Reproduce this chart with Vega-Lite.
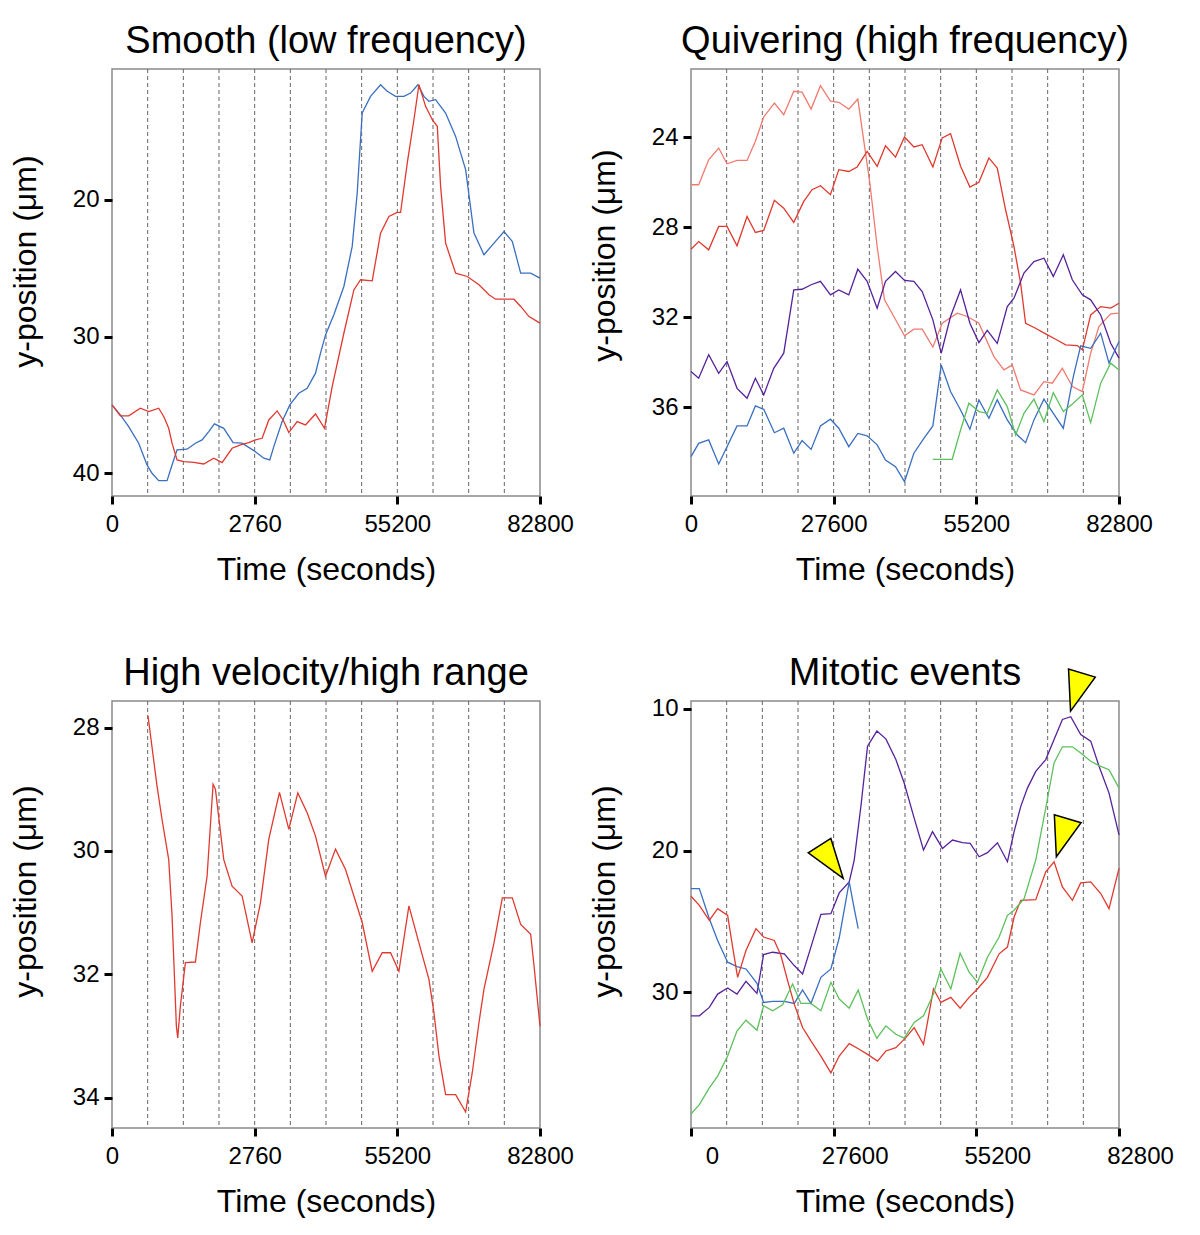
{
"$schema": "https://vega.github.io/schema/vega-lite/v6.json",
"background": "white",
"padding": {"left": 8, "top": 21, "right": 0, "bottom": 0},
"columns": 2,
"spacing": {"row": 205, "column": 151},
"bounds": "flush",
"datasets": {
"grid": [{"t":6900},{"t":13800},{"t":20700},{"t":27600},{"t":34500},{"t":41400},{"t":48300},{"t":55200},{"t":62100},{"t":69000},{"t":75900}],
"p1": [
{"s":"blue","t":0,"y":35.0},{"s":"blue","t":1614,"y":35.73},{"s":"blue","t":3227,"y":36.59},{"s":"blue","t":5163,"y":37.8},{"s":"blue","t":6777,"y":39.39},{"s":"blue","t":7745,"y":40.0},{"s":"blue","t":9036,"y":40.54},{"s":"blue","t":10649,"y":40.54},{"s":"blue","t":11617,"y":39.39},{"s":"blue","t":12585,"y":38.29},{"s":"blue","t":14522,"y":38.24},{"s":"blue","t":16135,"y":37.8},{"s":"blue","t":17426,"y":37.56},{"s":"blue","t":18717,"y":36.95},{"s":"blue","t":19814,"y":36.39},{"s":"blue","t":21621,"y":36.71},{"s":"blue","t":23428,"y":37.76},{"s":"blue","t":25171,"y":37.8},{"s":"blue","t":27430,"y":38.34},{"s":"blue","t":29366,"y":38.9},{"s":"blue","t":30527,"y":39.02},{"s":"blue","t":31302,"y":38.05},{"s":"blue","t":32915,"y":36.22},{"s":"blue","t":34400,"y":35.0},{"s":"blue","t":36142,"y":34.15},{"s":"blue","t":37756,"y":33.78},{"s":"blue","t":39369,"y":32.68},{"s":"blue","t":40338,"y":31.22},{"s":"blue","t":41306,"y":29.88},{"s":"blue","t":42919,"y":28.41},{"s":"blue","t":44855,"y":26.34},{"s":"blue","t":46469,"y":23.41},{"s":"blue","t":47437,"y":19.51},{"s":"blue","t":48405,"y":13.66},{"s":"blue","t":50019,"y":12.44},{"s":"blue","t":51955,"y":11.59},{"s":"blue","t":53246,"y":12.07},{"s":"blue","t":54859,"y":12.44},{"s":"blue","t":56473,"y":12.44},{"s":"blue","t":57763,"y":12.2},{"s":"blue","t":59183,"y":11.59},{"s":"blue","t":60345,"y":12.44},{"s":"blue","t":61313,"y":12.8},{"s":"blue","t":62604,"y":12.68},{"s":"blue","t":64540,"y":13.66},{"s":"blue","t":66476,"y":15.37},{"s":"blue","t":68412,"y":17.8},{"s":"blue","t":70026,"y":22.44},{"s":"blue","t":71962,"y":24.02},{"s":"blue","t":73898,"y":23.17},{"s":"blue","t":75835,"y":22.32},{"s":"blue","t":77448,"y":23.05},{"s":"blue","t":79062,"y":25.37},{"s":"blue","t":80998,"y":25.37},{"s":"blue","t":82800,"y":25.73},
{"s":"red","t":0,"y":35.0},{"s":"red","t":1614,"y":35.8},{"s":"red","t":3227,"y":35.8},{"s":"red","t":5486,"y":35.24},{"s":"red","t":7099,"y":35.49},{"s":"red","t":9036,"y":35.24},{"s":"red","t":10004,"y":35.85},{"s":"red","t":10972,"y":36.71},{"s":"red","t":11617,"y":37.8},{"s":"red","t":12585,"y":39.02},{"s":"red","t":13876,"y":39.15},{"s":"red","t":15812,"y":39.2},{"s":"red","t":17749,"y":39.32},{"s":"red","t":19685,"y":38.9},{"s":"red","t":21298,"y":39.22},{"s":"red","t":23234,"y":38.17},{"s":"red","t":24848,"y":37.93},{"s":"red","t":26461,"y":37.76},{"s":"red","t":27752,"y":37.56},{"s":"red","t":29043,"y":37.44},{"s":"red","t":30334,"y":36.1},{"s":"red","t":31947,"y":35.44},{"s":"red","t":33109,"y":36.1},{"s":"red","t":34206,"y":37.02},{"s":"red","t":35820,"y":36.22},{"s":"red","t":37433,"y":36.46},{"s":"red","t":39369,"y":35.66},{"s":"red","t":41112,"y":36.71},{"s":"red","t":42596,"y":33.66},{"s":"red","t":44855,"y":29.76},{"s":"red","t":46792,"y":26.59},{"s":"red","t":48082,"y":25.85},{"s":"red","t":50341,"y":25.93},{"s":"red","t":51955,"y":22.44},{"s":"red","t":53568,"y":21.22},{"s":"red","t":55182,"y":20.93},{"s":"red","t":55827,"y":20.93},{"s":"red","t":57118,"y":17.32},{"s":"red","t":58409,"y":14.15},{"s":"red","t":59377,"y":11.59},{"s":"red","t":60668,"y":13.17},{"s":"red","t":61958,"y":14.15},{"s":"red","t":62927,"y":14.63},{"s":"red","t":63572,"y":19.02},{"s":"red","t":64540,"y":23.17},{"s":"red","t":66476,"y":25.37},{"s":"red","t":68735,"y":25.61},{"s":"red","t":70994,"y":26.22},{"s":"red","t":72930,"y":26.95},{"s":"red","t":74221,"y":27.27},{"s":"red","t":77771,"y":27.27},{"s":"red","t":79062,"y":27.8},{"s":"red","t":80675,"y":28.54},{"s":"red","t":82800,"y":29.02}
],
"p2": [
{"s":"lightred","t":0,"y":26.12},{"s":"lightred","t":1484,"y":26.12},{"s":"lightred","t":3421,"y":25.01},{"s":"lightred","t":5357,"y":24.49},{"s":"lightred","t":6970,"y":25.19},{"s":"lightred","t":8907,"y":25.04},{"s":"lightred","t":10843,"y":25.04},{"s":"lightred","t":12456,"y":24.19},{"s":"lightred","t":14070,"y":23.11},{"s":"lightred","t":16135,"y":22.49},{"s":"lightred","t":17942,"y":23.01},{"s":"lightred","t":19878,"y":21.97},{"s":"lightred","t":21492,"y":22.01},{"s":"lightred","t":23234,"y":22.76},{"s":"lightred","t":25042,"y":21.72},{"s":"lightred","t":26978,"y":22.41},{"s":"lightred","t":28591,"y":22.46},{"s":"lightred","t":30527,"y":22.76},{"s":"lightred","t":32270,"y":22.31},{"s":"lightred","t":33303,"y":23.97},{"s":"lightred","t":34594,"y":26.04},{"s":"lightred","t":36013,"y":28.86},{"s":"lightred","t":37433,"y":31.23},{"s":"lightred","t":39240,"y":31.97},{"s":"lightred","t":41306,"y":32.83},{"s":"lightred","t":43113,"y":32.53},{"s":"lightred","t":44726,"y":32.53},{"s":"lightred","t":46792,"y":33.33},{"s":"lightred","t":48599,"y":32.27},{"s":"lightred","t":51503,"y":31.82},{"s":"lightred","t":53439,"y":31.97},{"s":"lightred","t":55698,"y":32.27},{"s":"lightred","t":58602,"y":33.75},{"s":"lightred","t":60539,"y":34.34},{"s":"lightred","t":62152,"y":34.12},{"s":"lightred","t":63766,"y":35.23},{"s":"lightred","t":66347,"y":35.45},{"s":"lightred","t":68283,"y":34.86},{"s":"lightred","t":69897,"y":34.93},{"s":"lightred","t":71833,"y":34.27},{"s":"lightred","t":73769,"y":35.08},{"s":"lightred","t":75705,"y":35.3},{"s":"lightred","t":77319,"y":33.6},{"s":"lightred","t":78932,"y":32.41},{"s":"lightred","t":81191,"y":31.85},{"s":"lightred","t":82800,"y":31.82},
{"s":"red","t":0,"y":28.98},{"s":"red","t":1484,"y":28.64},{"s":"red","t":3421,"y":29.01},{"s":"red","t":5357,"y":27.97},{"s":"red","t":6970,"y":27.97},{"s":"red","t":8907,"y":28.83},{"s":"red","t":10843,"y":27.53},{"s":"red","t":12456,"y":28.24},{"s":"red","t":14070,"y":28.15},{"s":"red","t":16135,"y":26.81},{"s":"red","t":17942,"y":27.16},{"s":"red","t":19878,"y":27.79},{"s":"red","t":21814,"y":26.86},{"s":"red","t":23428,"y":26.34},{"s":"red","t":25042,"y":26.16},{"s":"red","t":26978,"y":26.56},{"s":"red","t":28591,"y":25.45},{"s":"red","t":30527,"y":25.53},{"s":"red","t":32141,"y":25.33},{"s":"red","t":34077,"y":24.64},{"s":"red","t":36013,"y":25.3},{"s":"red","t":37627,"y":24.39},{"s":"red","t":39563,"y":24.89},{"s":"red","t":41306,"y":24.0},{"s":"red","t":43113,"y":24.44},{"s":"red","t":44726,"y":24.34},{"s":"red","t":46792,"y":25.33},{"s":"red","t":48599,"y":24.04},{"s":"red","t":50213,"y":23.85},{"s":"red","t":52149,"y":25.3},{"s":"red","t":53956,"y":26.22},{"s":"red","t":55698,"y":26.01},{"s":"red","t":57634,"y":24.93},{"s":"red","t":59248,"y":25.38},{"s":"red","t":60861,"y":27.23},{"s":"red","t":62475,"y":28.86},{"s":"red","t":63766,"y":30.49},{"s":"red","t":64734,"y":32.27},{"s":"red","t":66670,"y":32.49},{"s":"red","t":68606,"y":32.74},{"s":"red","t":70542,"y":32.98},{"s":"red","t":72478,"y":33.23},{"s":"red","t":74737,"y":33.26},{"s":"red","t":75705,"y":33.45},{"s":"red","t":77319,"y":31.9},{"s":"red","t":79255,"y":31.53},{"s":"red","t":81191,"y":31.6},{"s":"red","t":82800,"y":31.38},
{"s":"purple","t":0,"y":34.41},{"s":"purple","t":1484,"y":34.71},{"s":"purple","t":3421,"y":33.67},{"s":"purple","t":5357,"y":34.49},{"s":"purple","t":6970,"y":33.97},{"s":"purple","t":8907,"y":35.16},{"s":"purple","t":10843,"y":35.6},{"s":"purple","t":12456,"y":34.71},{"s":"purple","t":14070,"y":35.45},{"s":"purple","t":16006,"y":34.27},{"s":"purple","t":17942,"y":33.6},{"s":"purple","t":19878,"y":30.79},{"s":"purple","t":21492,"y":30.76},{"s":"purple","t":23234,"y":30.56},{"s":"purple","t":25042,"y":30.41},{"s":"purple","t":26978,"y":31.01},{"s":"purple","t":28591,"y":30.79},{"s":"purple","t":30527,"y":31.01},{"s":"purple","t":32270,"y":29.87},{"s":"purple","t":34077,"y":30.41},{"s":"purple","t":36013,"y":31.6},{"s":"purple","t":37627,"y":30.41},{"s":"purple","t":39563,"y":29.97},{"s":"purple","t":41306,"y":30.37},{"s":"purple","t":43113,"y":30.41},{"s":"purple","t":44726,"y":30.86},{"s":"purple","t":46792,"y":32.12},{"s":"purple","t":48405,"y":33.6},{"s":"purple","t":50213,"y":31.97},{"s":"purple","t":52149,"y":30.79},{"s":"purple","t":53956,"y":32.27},{"s":"purple","t":55698,"y":33.13},{"s":"purple","t":57312,"y":32.59},{"s":"purple","t":59248,"y":33.16},{"s":"purple","t":61184,"y":31.53},{"s":"purple","t":62475,"y":31.16},{"s":"purple","t":64411,"y":30.04},{"s":"purple","t":66347,"y":29.53},{"s":"purple","t":68283,"y":29.38},{"s":"purple","t":70090,"y":30.19},{"s":"purple","t":72026,"y":29.23},{"s":"purple","t":73769,"y":30.34},{"s":"purple","t":75705,"y":31.01},{"s":"purple","t":77319,"y":31.23},{"s":"purple","t":79255,"y":31.9},{"s":"purple","t":81191,"y":33.16},{"s":"purple","t":82800,"y":33.82},
{"s":"blue","t":0,"y":38.19},{"s":"blue","t":1484,"y":37.6},{"s":"blue","t":3421,"y":37.45},{"s":"blue","t":5357,"y":38.52},{"s":"blue","t":6970,"y":37.75},{"s":"blue","t":8907,"y":36.83},{"s":"blue","t":10843,"y":36.83},{"s":"blue","t":12456,"y":35.94},{"s":"blue","t":14070,"y":36.09},{"s":"blue","t":16135,"y":37.13},{"s":"blue","t":17942,"y":36.93},{"s":"blue","t":19878,"y":38.04},{"s":"blue","t":21492,"y":37.48},{"s":"blue","t":23234,"y":37.87},{"s":"blue","t":25042,"y":36.83},{"s":"blue","t":26978,"y":36.53},{"s":"blue","t":28591,"y":36.93},{"s":"blue","t":30527,"y":37.75},{"s":"blue","t":32270,"y":37.16},{"s":"blue","t":34077,"y":37.27},{"s":"blue","t":36013,"y":37.67},{"s":"blue","t":37627,"y":38.34},{"s":"blue","t":39563,"y":38.64},{"s":"blue","t":41306,"y":39.3},{"s":"blue","t":43113,"y":38.04},{"s":"blue","t":45049,"y":37.38},{"s":"blue","t":46792,"y":36.83},{"s":"blue","t":48405,"y":34.12},{"s":"blue","t":50213,"y":35.3},{"s":"blue","t":52149,"y":36.12},{"s":"blue","t":53956,"y":36.98},{"s":"blue","t":55698,"y":35.67},{"s":"blue","t":57634,"y":36.49},{"s":"blue","t":59248,"y":35.67},{"s":"blue","t":61184,"y":36.56},{"s":"blue","t":63120,"y":37.23},{"s":"blue","t":64734,"y":37.57},{"s":"blue","t":66347,"y":36.56},{"s":"blue","t":68283,"y":35.64},{"s":"blue","t":70090,"y":36.27},{"s":"blue","t":72026,"y":36.93},{"s":"blue","t":73963,"y":34.64},{"s":"blue","t":75383,"y":33.27},{"s":"blue","t":77319,"y":33.38},{"s":"blue","t":79255,"y":32.71},{"s":"blue","t":80869,"y":34.04},{"s":"blue","t":82800,"y":33.08},
{"s":"green","t":46792,"y":38.31},{"s":"green","t":50535,"y":38.31},{"s":"green","t":52149,"y":37.01},{"s":"green","t":53763,"y":35.82},{"s":"green","t":55698,"y":36.19},{"s":"green","t":57312,"y":36.27},{"s":"green","t":59248,"y":35.23},{"s":"green","t":61184,"y":35.97},{"s":"green","t":62797,"y":37.23},{"s":"green","t":64411,"y":36.27},{"s":"green","t":66347,"y":35.64},{"s":"green","t":68283,"y":36.64},{"s":"green","t":70090,"y":35.35},{"s":"green","t":72026,"y":36.19},{"s":"green","t":73963,"y":35.82},{"s":"green","t":75705,"y":35.45},{"s":"green","t":77319,"y":36.68},{"s":"green","t":79255,"y":34.93},{"s":"green","t":81191,"y":34.04},{"s":"green","t":82800,"y":34.34}
],
"p3": [
{"s":"red","t":6970,"y":27.81},{"s":"red","t":7745,"y":28.32},{"s":"red","t":8713,"y":28.95},{"s":"red","t":9681,"y":29.49},{"s":"red","t":10972,"y":30.14},{"s":"red","t":11617,"y":31.05},{"s":"red","t":12456,"y":32.84},{"s":"red","t":12714,"y":33.03},{"s":"red","t":13231,"y":32.51},{"s":"red","t":14199,"y":31.81},{"s":"red","t":16135,"y":31.8},{"s":"red","t":17103,"y":31.16},{"s":"red","t":18394,"y":30.41},{"s":"red","t":19556,"y":28.92},{"s":"red","t":20007,"y":29.0},{"s":"red","t":21621,"y":30.14},{"s":"red","t":23234,"y":30.57},{"s":"red","t":25171,"y":30.73},{"s":"red","t":27107,"y":31.49},{"s":"red","t":28720,"y":30.84},{"s":"red","t":30334,"y":29.81},{"s":"red","t":32399,"y":29.05},{"s":"red","t":34206,"y":29.65},{"s":"red","t":35949,"y":29.06},{"s":"red","t":37756,"y":29.38},{"s":"red","t":39369,"y":29.76},{"s":"red","t":41306,"y":30.41},{"s":"red","t":43242,"y":29.97},{"s":"red","t":45178,"y":30.3},{"s":"red","t":46792,"y":30.73},{"s":"red","t":48405,"y":31.16},{"s":"red","t":50341,"y":31.95},{"s":"red","t":52277,"y":31.65},{"s":"red","t":53891,"y":31.65},{"s":"red","t":55504,"y":31.95},{"s":"red","t":57441,"y":30.89},{"s":"red","t":59377,"y":31.49},{"s":"red","t":61313,"y":32.08},{"s":"red","t":62281,"y":32.62},{"s":"red","t":63249,"y":33.32},{"s":"red","t":64540,"y":33.95},{"s":"red","t":66476,"y":33.95},{"s":"red","t":68412,"y":34.23},{"s":"red","t":69703,"y":33.59},{"s":"red","t":70994,"y":32.78},{"s":"red","t":71962,"y":32.24},{"s":"red","t":73898,"y":31.49},{"s":"red","t":75512,"y":30.76},{"s":"red","t":77448,"y":30.76},{"s":"red","t":79062,"y":31.19},{"s":"red","t":80998,"y":31.35},{"s":"red","t":81643,"y":31.86},{"s":"red","t":82800,"y":32.84}
],
"p4": [
{"s":"purple","t":0,"y":31.65},{"s":"purple","t":1611,"y":31.65},{"s":"purple","t":3544,"y":31.06},{"s":"purple","t":5155,"y":30.12},{"s":"purple","t":7088,"y":29.69},{"s":"purple","t":8893,"y":30.12},{"s":"purple","t":10633,"y":29.22},{"s":"purple","t":12759,"y":30.07},{"s":"purple","t":14048,"y":27.33},{"s":"purple","t":15788,"y":27.17},{"s":"purple","t":18043,"y":27.28},{"s":"purple","t":19976,"y":28.11},{"s":"purple","t":21587,"y":28.7},{"s":"purple","t":23198,"y":26.81},{"s":"purple","t":25132,"y":24.5},{"s":"purple","t":27065,"y":24.45},{"s":"purple","t":28676,"y":22.99},{"s":"purple","t":30609,"y":22.21},{"s":"purple","t":31576,"y":20.67},{"s":"purple","t":32864,"y":16.9},{"s":"purple","t":34153,"y":12.64},{"s":"purple","t":35958,"y":11.58},{"s":"purple","t":37697,"y":12.13},{"s":"purple","t":39631,"y":13.59},{"s":"purple","t":41242,"y":15.24},{"s":"purple","t":43175,"y":17.72},{"s":"purple","t":44979,"y":19.96},{"s":"purple","t":46719,"y":18.67},{"s":"purple","t":48652,"y":19.85},{"s":"purple","t":50585,"y":19.26},{"s":"purple","t":52519,"y":19.45},{"s":"purple","t":54001,"y":19.49},{"s":"purple","t":55741,"y":20.44},{"s":"purple","t":57352,"y":20.15},{"s":"purple","t":59285,"y":19.45},{"s":"purple","t":61218,"y":20.79},{"s":"purple","t":62507,"y":18.67},{"s":"purple","t":63796,"y":16.89},{"s":"purple","t":65084,"y":15.6},{"s":"purple","t":66695,"y":14.42},{"s":"purple","t":68629,"y":13.59},{"s":"purple","t":70240,"y":12.17},{"s":"purple","t":71851,"y":10.76},{"s":"purple","t":73462,"y":10.57},{"s":"purple","t":75395,"y":11.82},{"s":"purple","t":77328,"y":12.29},{"s":"purple","t":78939,"y":14.06},{"s":"purple","t":80872,"y":15.95},{"s":"purple","t":82800,"y":18.9},
{"s":"blue","t":0,"y":22.68},{"s":"blue","t":1611,"y":22.68},{"s":"blue","t":3544,"y":24.81},{"s":"blue","t":5155,"y":26.34},{"s":"blue","t":7088,"y":27.87},{"s":"blue","t":8893,"y":28.18},{"s":"blue","t":10633,"y":28.35},{"s":"blue","t":12759,"y":29.36},{"s":"blue","t":14048,"y":30.71},{"s":"blue","t":15788,"y":30.64},{"s":"blue","t":18043,"y":30.64},{"s":"blue","t":19976,"y":30.78},{"s":"blue","t":21587,"y":29.83},{"s":"blue","t":23198,"y":30.78},{"s":"blue","t":25132,"y":28.94},{"s":"blue","t":27065,"y":28.35},{"s":"blue","t":28676,"y":26.15},{"s":"blue","t":30609,"y":22.21},{"s":"blue","t":31576,"y":24.1},{"s":"blue","t":32349,"y":25.51},
{"s":"red","t":0,"y":23.22},{"s":"red","t":1611,"y":23.86},{"s":"red","t":3544,"y":24.92},{"s":"red","t":5155,"y":24.1},{"s":"red","t":7088,"y":24.57},{"s":"red","t":8055,"y":26.81},{"s":"red","t":9022,"y":28.94},{"s":"red","t":10633,"y":27.05},{"s":"red","t":12566,"y":25.51},{"s":"red","t":14048,"y":26.1},{"s":"red","t":16110,"y":26.34},{"s":"red","t":17399,"y":27.4},{"s":"red","t":18688,"y":29.17},{"s":"red","t":19976,"y":30.83},{"s":"red","t":21587,"y":32.48},{"s":"red","t":23198,"y":33.42},{"s":"red","t":25132,"y":34.49},{"s":"red","t":27065,"y":35.67},{"s":"red","t":28676,"y":34.49},{"s":"red","t":30609,"y":33.61},{"s":"red","t":32542,"y":34.01},{"s":"red","t":34153,"y":34.37},{"s":"red","t":36086,"y":34.84},{"s":"red","t":37697,"y":34.13},{"s":"red","t":39631,"y":33.9},{"s":"red","t":41564,"y":33.19},{"s":"red","t":43175,"y":32.48},{"s":"red","t":44979,"y":33.66},{"s":"red","t":46912,"y":29.76},{"s":"red","t":48330,"y":30.71},{"s":"red","t":50263,"y":30.35},{"s":"red","t":52068,"y":31.11},{"s":"red","t":53807,"y":30.35},{"s":"red","t":55418,"y":29.76},{"s":"red","t":57352,"y":28.94},{"s":"red","t":59607,"y":27.28},{"s":"red","t":61218,"y":26.81},{"s":"red","t":62507,"y":24.69},{"s":"red","t":63796,"y":23.51},{"s":"red","t":66695,"y":23.46},{"s":"red","t":68629,"y":21.5},{"s":"red","t":70240,"y":20.79},{"s":"red","t":71851,"y":22.56},{"s":"red","t":73784,"y":23.51},{"s":"red","t":75395,"y":22.28},{"s":"red","t":77328,"y":22.21},{"s":"red","t":79261,"y":23.03},{"s":"red","t":80872,"y":24.1},{"s":"red","t":82800,"y":21.26},
{"s":"green","t":0,"y":38.57},{"s":"green","t":1611,"y":37.91},{"s":"green","t":3544,"y":36.73},{"s":"green","t":5155,"y":35.9},{"s":"green","t":7088,"y":34.49},{"s":"green","t":8893,"y":32.72},{"s":"green","t":10633,"y":31.96},{"s":"green","t":12759,"y":32.67},{"s":"green","t":14048,"y":30.94},{"s":"green","t":15788,"y":31.3},{"s":"green","t":17721,"y":30.87},{"s":"green","t":19654,"y":29.41},{"s":"green","t":21265,"y":30.78},{"s":"green","t":23198,"y":30.78},{"s":"green","t":25132,"y":31.3},{"s":"green","t":27065,"y":29.29},{"s":"green","t":28676,"y":30.47},{"s":"green","t":30609,"y":31.11},{"s":"green","t":32349,"y":29.83},{"s":"green","t":34153,"y":31.89},{"s":"green","t":35958,"y":33.23},{"s":"green","t":37697,"y":32.36},{"s":"green","t":39631,"y":32.95},{"s":"green","t":41242,"y":33.23},{"s":"green","t":43175,"y":32.12},{"s":"green","t":44979,"y":31.65},{"s":"green","t":46912,"y":30.12},{"s":"green","t":48330,"y":28.35},{"s":"green","t":50263,"y":29.76},{"s":"green","t":52068,"y":27.24},{"s":"green","t":53807,"y":28.58},{"s":"green","t":55418,"y":29.29},{"s":"green","t":57352,"y":27.52},{"s":"green","t":59607,"y":26.1},{"s":"green","t":61218,"y":24.57},{"s":"green","t":62507,"y":24.21},{"s":"green","t":64440,"y":23.39},{"s":"green","t":66695,"y":20.67},{"s":"green","t":68629,"y":17.01},{"s":"green","t":70240,"y":13.83},{"s":"green","t":71851,"y":12.69},{"s":"green","t":73784,"y":12.69},{"s":"green","t":75395,"y":13.12},{"s":"green","t":77328,"y":13.71},{"s":"green","t":78939,"y":14.01},{"s":"green","t":80872,"y":14.3},{"s":"green","t":82800,"y":15.6}
],
"arrows": [
{"t":29456,"y":21.97,"kind":"diagonal"},
{"t":73426,"y":10.17,"kind":"down"},
{"t":70680,"y":20.44,"kind":"down"}
]
},
"concat": [
{
"title": "Smooth (low frequency)",
"width": 428, "height": 427,
"layer": [
{"data": {"name": "grid"}, "mark": {"type": "rule", "strokeDash": [4, 3], "color": "#666666", "strokeWidth": 1},
 "encoding": {"x": {"field": "t", "type": "quantitative", "scale": {"domain": [0, 82800], "nice": false, "zero": false}}}},
{"data": {"name": "p1"}, "mark": {"type": "line", "strokeWidth": 1.3},
 "encoding": {
  "x": {"field": "t", "type": "quantitative", "scale": {"domain": [0, 82800], "nice": false, "zero": false},
        "axis": {"title": "Time (seconds)", "values": [0, 27600, 55200, 82800], "labelExpr": "datum.value == 27600 ? '2760' : format(datum.value, 'd')", "labelFlush": false, "labelOverlap": false}},
  "y": {"field": "y", "type": "quantitative", "scale": {"domain": [10.44, 41.66], "reverse": true, "nice": false, "zero": false},
        "axis": {"title": "y-position (μm)", "values": [20, 30, 40], "titleY": 192}},
  "color": {"field": "s", "type": "nominal", "legend": null, "scale": {"domain": ["red", "lightred", "purple", "blue", "green"], "range": ["#e0392f", "#f07a70", "#55229a", "#3a6fc0", "#5cc05c"]}}
 }}
]
},
{
"title": "Quivering (high frequency)",
"width": 428, "height": 427,
"layer": [
{"data": {"name": "grid"}, "mark": {"type": "rule", "strokeDash": [4, 3], "color": "#666666", "strokeWidth": 1},
 "encoding": {"x": {"field": "t", "type": "quantitative", "scale": {"domain": [0, 82800], "nice": false, "zero": false}}}},
{"data": {"name": "p2"}, "mark": {"type": "line", "strokeWidth": 1.3},
 "encoding": {
  "x": {"field": "t", "type": "quantitative", "scale": {"domain": [0, 82800], "nice": false, "zero": false},
        "axis": {"title": "Time (seconds)", "values": [0, 27600, 55200, 82800], "labelExpr": "format(datum.value, 'd')", "labelFlush": false, "labelOverlap": false}},
  "y": {"field": "y", "type": "quantitative", "scale": {"domain": [20.98, 39.94], "reverse": true, "nice": false, "zero": false},
        "axis": {"title": "y-position (μm)", "values": [24, 28, 32, 36], "titleY": 186}},
  "color": {"field": "s", "type": "nominal", "legend": null, "scale": {"domain": ["red", "lightred", "purple", "blue", "green"], "range": ["#e0392f", "#f07a70", "#55229a", "#3a6fc0", "#5cc05c"]}}
 }}
]
},
{
"title": "High velocity/high range",
"width": 428, "height": 427,
"layer": [
{"data": {"name": "grid"}, "mark": {"type": "rule", "strokeDash": [4, 3], "color": "#666666", "strokeWidth": 1},
 "encoding": {"x": {"field": "t", "type": "quantitative", "scale": {"domain": [0, 82800], "nice": false, "zero": false}}}},
{"data": {"name": "p3"}, "mark": {"type": "line", "strokeWidth": 1.3},
 "encoding": {
  "x": {"field": "t", "type": "quantitative", "scale": {"domain": [0, 82800], "nice": false, "zero": false},
        "axis": {"title": "Time (seconds)", "values": [0, 27600, 55200, 82800], "labelExpr": "datum.value == 27600 ? '2760' : format(datum.value, 'd')", "labelFlush": false, "labelOverlap": false}},
  "y": {"field": "y", "type": "quantitative", "scale": {"domain": [27.57, 34.49], "reverse": true, "nice": false, "zero": false},
        "axis": {"title": "y-position (μm)", "values": [28, 30, 32, 34], "titleY": 190}},
  "color": {"field": "s", "type": "nominal", "legend": null, "scale": {"domain": ["red", "lightred", "purple", "blue", "green"], "range": ["#e0392f", "#f07a70", "#55229a", "#3a6fc0", "#5cc05c"]}}
 }}
]
},
{
"title": {"text": "Mitotic events", "offset": -27},
"width": 428, "height": 427,
"layer": [
{"data": {"name": "grid"}, "mark": {"type": "rule", "strokeDash": [4, 3], "color": "#666666", "strokeWidth": 1},
 "encoding": {"x": {"field": "t", "type": "quantitative", "scale": {"domain": [0, 82800], "nice": false, "zero": false}}}},
{"data": {"name": "p4"}, "mark": {"type": "line", "strokeWidth": 1.3},
 "encoding": {
  "x": {"field": "t", "type": "quantitative", "scale": {"domain": [0, 82800], "nice": false, "zero": false},
        "axis": {"title": "Time (seconds)", "values": [0, 27600, 55200, 82800], "labelExpr": "format(datum.value, 'd')", "labelFlush": false, "labelOverlap": false, "labelOffset": 21}},
  "y": {"field": "y", "type": "quantitative", "scale": {"domain": [9.46, 39.56], "reverse": true, "nice": false, "zero": false},
        "axis": {"title": "y-position (μm)", "values": [10, 20, 30], "titleY": 190}},
  "color": {"field": "s", "type": "nominal", "legend": null, "scale": {"domain": ["red", "lightred", "purple", "blue", "green"], "range": ["#e0392f", "#f07a70", "#55229a", "#3a6fc0", "#5cc05c"]}}
 }},
{"data": {"name": "arrows"}, "mark": {"type": "point", "filled": true, "opacity": 1, "fill": "#ffff00", "stroke": "black", "strokeWidth": 1.5, "size": 1600},
 "encoding": {
  "x": {"field": "t", "type": "quantitative"},
  "y": {"field": "y", "type": "quantitative"},
  "shape": {"field": "kind", "type": "nominal", "legend": null, "scale": {"domain": ["down", "diagonal"], "range": ["M0,0L-0.1,-2.1L1.235,-1.7Z", "M0,0L-1.75,-1.28L-0.62,-2Z"]}}
 }}
]
}
],
"config": {
 "font": "Liberation Sans",
 "view": {"stroke": "#8a8a8a", "strokeWidth": 1.5},
 "title": {"fontSize": 38, "fontWeight": "normal", "color": "black", "baseline": "alphabetic", "offset": 8, "frame": "group", "anchor": "middle"},
 "axis": {"domain": false, "grid": false, "tickColor": "black", "tickWidth": 3, "tickSize": 8, "labelFontSize": 24, "labelColor": "black", "titleFontSize": 32, "titleFontWeight": "normal", "titleColor": "black"},
 "axisX": {"labelPadding": 8, "titlePadding": 18},
 "axisY": {"labelPadding": 5, "titlePadding": 30}
}
}
